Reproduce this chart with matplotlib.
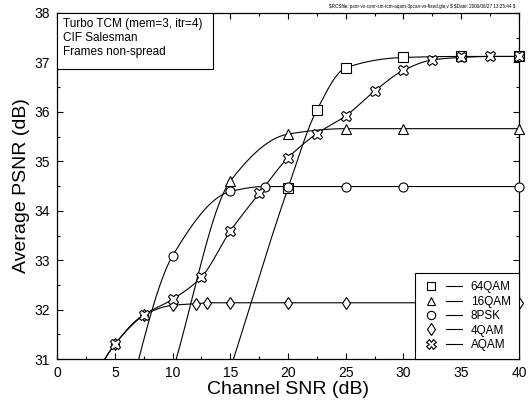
import numpy as np
import matplotlib
matplotlib.use("Agg")
import matplotlib.pyplot as plt
from matplotlib.lines import Line2D
from matplotlib.legend_handler import HandlerTuple
from matplotlib.ticker import MultipleLocator

plt.rcParams['font.family'] = ['Liberation Sans', 'DejaVu Sans']

# ---- data (points below 31 dB are off-axis estimates) ----
snr_64qam = [15, 20, 22.5, 25, 30, 35, 40]
psnr_64qam = [30.8, 34.46, 36.04, 36.89, 37.10, 37.12, 37.12]

snr_16qam = [10, 15, 20, 25, 30, 40]
psnr_16qam = [30.75, 34.60, 35.55, 35.66, 35.66, 35.66]

snr_8psk = [5, 10, 15, 18, 20, 25, 30, 40]
psnr_8psk = [29.2, 33.09, 34.39, 34.49, 34.49, 34.49, 34.49, 34.49]

snr_4qam = [2.5, 5, 7.5, 10, 12, 13, 15, 20, 25, 40]
psnr_4qam = [30.35, 31.30, 31.89, 32.09, 32.12, 32.14, 32.14, 32.14, 32.14, 32.14]

snr_aqam = [2.5, 5, 7.5, 10, 12.5, 15, 17.5, 20, 22.5, 25, 27.5, 30, 32.5, 35, 37.5, 40]
psnr_aqam = [30.35, 31.30, 31.89, 32.21, 32.66, 33.59, 34.35, 35.07, 35.56, 35.92,
             36.42, 36.84, 37.05, 37.10, 37.12, 37.12]

labels = ["64QAM", "16QAM", "8PSK", "4QAM", "AQAM"]
markers = ["s", "^", "o", "d", "X"]


def pchip(x, y, n=400):
    """Monotone cubic curve through the points (for the smooth gle-style lines)."""
    x = np.asarray(x, float)
    y = np.asarray(y, float)
    h = np.diff(x)
    d = np.diff(y) / h
    m = np.zeros_like(y)
    for k in range(1, len(x) - 1):
        if d[k - 1] * d[k] > 0:
            w1 = 2 * h[k] + h[k - 1]
            w2 = h[k] + 2 * h[k - 1]
            m[k] = (w1 + w2) / (w1 / d[k - 1] + w2 / d[k])
    m[0] = d[0]
    m[-1] = d[-1]
    xs = np.linspace(x[0], x[-1], n)
    idx = np.clip(np.searchsorted(x, xs) - 1, 0, len(x) - 2)
    t = (xs - x[idx]) / h[idx]
    h00 = 2 * t**3 - 3 * t**2 + 1
    h10 = t**3 - 2 * t**2 + t
    h01 = -2 * t**3 + 3 * t**2
    h11 = t**3 - t**2
    ys = h00 * y[idx] + h10 * h[idx] * m[idx] + h01 * y[idx + 1] + h11 * h[idx] * m[idx + 1]
    return xs, ys


fig = plt.figure(figsize=(5.29, 4.04), dpi=100)
ax = fig.add_axes([0.108, 0.111, 0.873, 0.857])

series = [(snr_64qam, psnr_64qam), (snr_16qam, psnr_16qam), (snr_8psk, psnr_8psk),
          (snr_4qam, psnr_4qam), (snr_aqam, psnr_aqam)]

handles = []
for (xv, yv), mk, lab in zip(series, markers, labels):
    xs, ys = pchip(xv, yv)
    ax.plot(xs, ys, color="black", lw=0.8, zorder=2)
    xv = np.asarray(xv)
    yv = np.asarray(yv)
    keep = yv >= 31
    ax.plot(xv[keep], yv[keep], ls="none", marker=mk, ms=6.5 if mk != "X" else 7.5,
            mfc="white", mec="black", mew=0.8, clip_on=False, zorder=3)
    h_mk = Line2D([], [], ls="none", marker=mk, ms=6 if mk != "X" else 7,
                  mfc="white", mec="black", mew=0.8)
    h_ln = Line2D([], [], color="black", lw=0.8)
    handles.append((h_mk, h_ln))

ax.set_xlim(0, 40)
ax.set_ylim(31, 38)
ax.xaxis.set_major_locator(MultipleLocator(5))
ax.xaxis.set_minor_locator(MultipleLocator(2.5))
ax.yaxis.set_major_locator(MultipleLocator(1))
ax.yaxis.set_minor_locator(MultipleLocator(0.5))
ax.tick_params(which="both", direction="in", top=True, right=True, labelsize=10, pad=5)
ax.tick_params(which="major", length=4, width=0.8)
ax.tick_params(which="minor", length=2.5, width=0.8)
for s in ax.spines.values():
    s.set_linewidth(0.9)

ax.set_xlabel("Channel SNR (dB)", fontsize=14, labelpad=1)
ax.set_ylabel("Average PSNR (dB)", fontsize=14, labelpad=3)

ax.text(0.012, 0.985, "Turbo TCM (mem=3, itr=4)\nCIF Salesman\nFrames non-spread",
        transform=ax.transAxes, ha="left", va="top", fontsize=8.5, linespacing=1.2,
        zorder=5)
# frame of the annotation box (touches the axes' top-left corner)
ax.add_patch(plt.Rectangle((0, 0.8385), 0.338, 0.1615, transform=ax.transAxes,
                           fc="white", ec="black", lw=0.8, zorder=4))

leg = ax.legend(handles, labels, loc="lower right", borderaxespad=0,
                handler_map={tuple: HandlerTuple(ndivide=None, pad=0.6)},
                handlelength=3.3, handletextpad=0.7, labelspacing=0.2,
                borderpad=0.7, fontsize=8.5, fancybox=False, framealpha=1,
                edgecolor="black")
leg.get_frame().set_linewidth(0.8)
leg.set_zorder(6)

fig.text(0.974, 0.984, "$RCSfile: psnr-vs-csnr-sm-tcm-aqam-3pcan-vs-fixed.gle,v $ "
         "$Date: 2000/06/27 13:25:44 $", ha="right", va="center", fontsize=3.3,
         parse_math=False)

fig.savefig("out.png", dpi=100)
